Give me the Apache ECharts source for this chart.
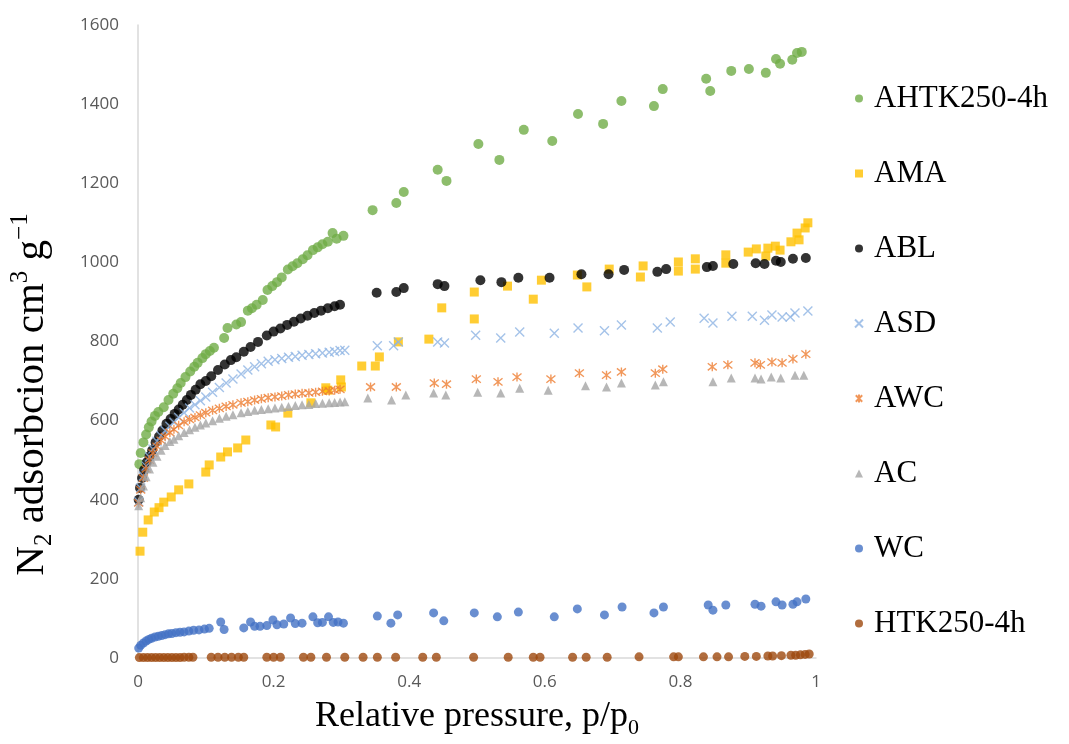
<!DOCTYPE html>
<html>
<head>
<meta charset="utf-8">
<title>N2 adsorption isotherms</title>
<script src="https://cdn.jsdelivr.net/npm/echarts@6/dist/echarts.min.js"></script>
<style>
  html, body { margin: 0; padding: 0; background: #fff; }
  #chart { width: 1069px; height: 744px; }
</style>
</head>
<body>
<div id="chart"></div>
<script>
// [p/p0, cm3/g] pairs
const AHTK = [
  [0.002,490],[0.004,518],[0.008,545],[0.012,565],[0.016,583],[0.02,598],[0.025,612],[0.03,622],
  [0.038,634],[0.045,652],[0.052,668],[0.058,682],[0.063,695],[0.07,710],[0.077,724],[0.083,736],
  [0.088,746],[0.095,758],[0.1,768],[0.106,776],[0.112,784],[0.127,809],[0.132,834],[0.145,843],
  [0.152,849],[0.162,878],[0.168,884],[0.175,893],[0.184,905],[0.191,930],[0.198,940],[0.205,950],
  [0.212,962],[0.221,982],[0.228,990],[0.235,998],[0.243,1008],[0.25,1018],[0.258,1031],[0.265,1038],
  [0.272,1046],[0.28,1052],[0.287,1074],[0.293,1060],[0.303,1067],
  [0.346,1132],[0.381,1150],[0.392,1178],[0.442,1234],[0.455,1206],[0.502,1299],[0.533,1259],
  [0.569,1335],[0.611,1307],[0.649,1375],[0.686,1350],[0.713,1408],[0.761,1395],[0.774,1438],
  [0.838,1464],[0.844,1433],[0.875,1484],[0.901,1489],[0.926,1479],[0.941,1514],[0.947,1502],
  [0.965,1512],[0.972,1529],[0.979,1532]
];
const AMA = [
  [0.003,270],[0.007,318],[0.015,349],[0.024,369],[0.031,380],[0.038,394],[0.049,407],[0.06,425],
  [0.075,440],[0.1,470],[0.105,488],[0.122,508],[0.132,521],[0.147,531],[0.159,551],[0.196,589],
  [0.203,584],[0.221,619],[0.255,645],[0.277,683],[0.28,677],[0.299,703],[0.3,685],[0.33,738],
  [0.35,738],[0.356,761],[0.384,799],[0.429,806],[0.448,885],[0.496,857],[0.496,925],[0.545,940],
  [0.583,907],[0.595,955],[0.648,968],[0.662,938],[0.695,983],[0.741,963],[0.745,991],[0.797,978],
  [0.797,1001],[0.822,983],[0.822,1009],[0.867,998],[0.867,1019],[0.9,1026],[0.912,1034],
  [0.926,1016],[0.929,1036],[0.94,1041],[0.947,1031],[0.963,1052],[0.972,1074],[0.975,1057],
  [0.984,1087],[0.988,1100]
];
const ABL = [
  [0.001,400],[0.003,430],[0.006,455],[0.009,475],[0.013,495],[0.017,510],[0.021,525],[0.026,545],
  [0.031,560],[0.036,575],[0.042,592],[0.048,604],[0.054,617],[0.06,628],[0.066,640],[0.072,652],
  [0.078,665],[0.085,678],[0.092,692],[0.1,700],[0.108,712],[0.118,728],[0.128,742],[0.137,753],
  [0.145,760],[0.156,774],[0.166,786],[0.177,799],[0.19,815],[0.2,825],[0.21,833],[0.22,842],
  [0.23,850],[0.24,858],[0.25,865],[0.26,872],[0.27,878],[0.28,884],[0.29,889],[0.298,893],
  [0.352,923],[0.381,925],[0.392,935],[0.442,945],[0.452,940],[0.505,955],[0.536,950],[0.561,961],
  [0.607,961],[0.654,970],[0.694,970],[0.717,981],[0.766,976],[0.779,983],[0.839,988],[0.848,991],
  [0.878,996],[0.911,998],[0.924,996],[0.941,1004],[0.948,1001],[0.966,1009],[0.985,1011]
];
const ASD = [
  [0.001,395],[0.004,430],[0.008,460],[0.012,485],[0.017,508],[0.022,528],[0.028,548],[0.034,562],
  [0.04,575],[0.047,586],[0.053,596],[0.06,608],[0.068,620],[0.076,632],[0.084,640],[0.092,650],
  [0.1,660],[0.11,672],[0.12,684],[0.13,695],[0.14,705],[0.152,718],[0.162,728],[0.172,736],
  [0.182,744],[0.192,750],[0.202,754],[0.212,757],[0.222,760],[0.232,762],[0.242,765],[0.252,767],
  [0.262,769],[0.272,771],[0.282,773],[0.29,775],[0.298,777],[0.305,778],
  [0.353,789],[0.377,789],[0.384,799],[0.442,799],[0.452,796],[0.498,816],[0.535,809],[0.563,824],
  [0.614,821],[0.649,834],[0.688,827],[0.713,842],[0.766,834],[0.785,849],[0.835,859],[0.848,847],
  [0.876,864],[0.906,864],[0.924,854],[0.935,867],[0.95,862],[0.962,862],[0.969,872],[0.988,877]
];
const AWC = [
  [0.001,392],[0.004,425],[0.008,455],[0.012,478],[0.017,500],[0.022,518],[0.028,535],[0.034,550],
  [0.04,560],[0.047,570],[0.053,578],[0.06,588],[0.068,597],[0.076,603],[0.084,608],[0.092,614],
  [0.1,620],[0.11,626],[0.12,631],[0.13,636],[0.14,640],[0.152,645],[0.162,648],[0.172,652],
  [0.182,655],[0.192,658],[0.202,660],[0.212,662],[0.222,665],[0.232,667],[0.242,669],[0.252,670],
  [0.262,672],[0.272,674],[0.282,675],[0.29,677],[0.298,679],
  [0.343,685],[0.381,685],[0.437,695],[0.455,692],[0.499,705],[0.531,698],[0.559,710],[0.609,705],
  [0.651,720],[0.691,715],[0.713,723],[0.763,720],[0.774,730],[0.847,736],[0.87,741],[0.91,746],
  [0.918,741],[0.935,748],[0.95,746],[0.966,756],[0.985,768]
];
const AC = [
  [0.001,385],[0.004,405],[0.008,435],[0.012,458],[0.017,478],[0.022,495],[0.028,510],[0.034,525],
  [0.04,537],[0.047,547],[0.053,553],[0.06,562],[0.068,570],[0.076,577],[0.084,583],[0.092,589],
  [0.1,594],[0.11,600],[0.12,606],[0.13,611],[0.14,615],[0.152,620],[0.162,623],[0.172,626],
  [0.182,628],[0.192,630],[0.202,632],[0.212,634],[0.222,636],[0.232,638],[0.242,640],[0.252,641],
  [0.262,643],[0.272,644],[0.282,645],[0.29,646],[0.298,647],[0.305,648],
  [0.339,657],[0.374,652],[0.395,665],[0.436,670],[0.454,665],[0.501,672],[0.535,670],[0.563,682],
  [0.605,677],[0.66,688],[0.691,685],[0.713,695],[0.763,690],[0.775,698],[0.848,698],[0.875,708],
  [0.91,708],[0.919,705],[0.934,710],[0.948,708],[0.969,715],[0.982,715]
];
const WC = [
  [0.001,25],[0.004,32],[0.008,38],[0.012,43],[0.016,47],[0.02,50],[0.025,53],[0.03,55],
  [0.035,57],[0.04,59],[0.045,61],[0.05,62],[0.056,64],[0.062,65],[0.068,66],[0.075,68],
  [0.082,70],[0.09,71],[0.098,73],[0.105,75],[0.122,91],[0.127,72],[0.156,76],[0.166,91],
  [0.172,80],[0.18,80],[0.19,82],[0.199,96],[0.205,84],[0.215,86],[0.225,101],[0.232,87],
  [0.242,88],[0.258,104],[0.265,89],[0.272,90],[0.281,104],[0.288,90],[0.295,91],[0.303,88],
  [0.353,106],[0.373,88],[0.383,109],[0.436,114],[0.451,94],[0.496,114],[0.53,104],[0.561,116],
  [0.614,104],[0.648,124],[0.688,109],[0.714,129],[0.761,114],[0.775,129],[0.841,134],[0.848,121],
  [0.867,134],[0.91,136],[0.919,131],[0.941,142],[0.95,134],[0.966,136],[0.972,142],[0.985,149]
];
const HTK = [
  [0.002,1],[0.008,1],[0.014,1],[0.02,1],[0.026,1],[0.032,1],[0.038,1],[0.044,1],[0.05,1],
  [0.056,1],[0.062,1],[0.068,2],[0.075,2],[0.081,2],[0.108,2],[0.118,2],[0.128,2],[0.138,2],
  [0.148,2],[0.156,2],[0.19,2],[0.2,2],[0.21,2],[0.244,2],[0.255,2],[0.278,2],[0.305,2],
  [0.332,2],[0.353,2],[0.38,2],[0.42,2],[0.44,2],[0.495,2],[0.546,2],[0.583,2],[0.593,2],
  [0.641,2],[0.661,2],[0.692,2],[0.739,3],[0.79,3],[0.797,3],[0.834,3],[0.854,3],[0.871,3],
  [0.895,4],[0.912,4],[0.929,5],[0.936,5],[0.949,6],[0.963,7],[0.97,7],[0.977,8],[0.984,9],[0.99,10]
];

const xTicks = [0, 0.2, 0.4, 0.6, 0.8, 1];

const serif = "'Liberation Serif', 'Times New Roman', serif";
const sans = "'Open Sans', 'Noto Sans', sans-serif";

const X_MARK = 'path://M0,0L10,10M10,0L0,10';
const STAR_MARK = 'path://M5,0L5,10M1,1L9,9M9,1L1,9';

function sc(name, data, symbol, size, color, stroked){
  return {
    name,
    type: 'scatter',
    data,
    symbol,
    symbolSize: size,
    itemStyle: stroked
      ? { color: 'rgba(0,0,0,0)', borderColor: color, borderWidth: 1.4 }
      : { color },
    emphasis: { disabled: true }
  };
}

const chart = echarts.init(document.getElementById('chart'));

function rich(size){
  const small = Math.round(size * 0.62);
  return {
    m: { fontFamily: serif, fontSize: size, color: '#000', lineHeight: size + 8 },
    s: { fontFamily: serif, fontSize: small, color: '#000', lineHeight: small, verticalAlign: 'bottom' },
    p: { fontFamily: serif, fontSize: small, color: '#000', lineHeight: small + 6, verticalAlign: 'top' }
  };
}

chart.setOption({
  animation: false,
  backgroundColor: '#fff',
  grid: { left: 137, right: 253, top: 25, bottom: 86 },
  legend: {
    orient: 'vertical',
    left: 849,
    top: 78,
    itemGap: 44,
    itemWidth: 8,
    itemHeight: 8,
    textStyle: { fontFamily: serif, fontSize: 31, color: '#000', padding: [0, 0, 0, 6] }
  },
  xAxis: {
    type: 'value',
    min: 0,
    max: 1,
    interval: 0.2,
    name: '{m|Relative pressure, p/p}{s|0}',
    nameLocation: 'middle',
    nameGap: 37,
    nameTextStyle: { rich: rich(36) },
    axisLine: { show: true, lineStyle: { color: '#d9d9d9', width: 1.5 } },
    axisTick: { show: false },
    splitLine: { show: false },
    axisLabel: {
      margin: 16,
      fontFamily: sans,
      fontSize: 17,
      color: '#595959',
      formatter: v => xTicks.includes(Math.round(v * 10) / 10) ? String(Math.round(v * 10) / 10) : ''
    }
  },
  yAxis: {
    type: 'value',
    min: 0,
    max: 1600,
    interval: 200,
    name: '{m|N}{s|2}{m| adsorbcion cm}{p|3}{m| g}{p|\u22121}',
    nameLocation: 'middle',
    nameGap: 81,
    nameTextStyle: { rich: rich(41), padding: [0, 106, 0, 0] },
    axisLine: { show: true, lineStyle: { color: '#d9d9d9', width: 1.5 } },
    axisTick: { show: false },
    splitLine: { show: false },
    axisLabel: { margin: 19, fontFamily: sans, fontSize: 17, color: '#595959', formatter: v => String(v) }
  },
  series: [
    sc('AHTK250-4h', AHTK, 'circle', 10, '#70ad47'),
    sc('AMA', AMA, 'rect', 9, '#ffc000'),
    sc('ABL', ABL, 'circle', 10, '#000000'),
    sc('ASD', ASD, X_MARK, 9, '#8eb4e3', true),
    sc('AWC', AWC, STAR_MARK, 9, '#ed7d31', true),
    sc('AC', AC, 'triangle', 9, '#a5a5a5'),
    sc('WC', WC, 'circle', 9, '#4472c4'),
    sc('HTK250-4h', HTK, 'circle', 9, '#9e480e')
  ]
});

window.addEventListener('resize', () => chart.resize());
</script>
</body>
</html>
